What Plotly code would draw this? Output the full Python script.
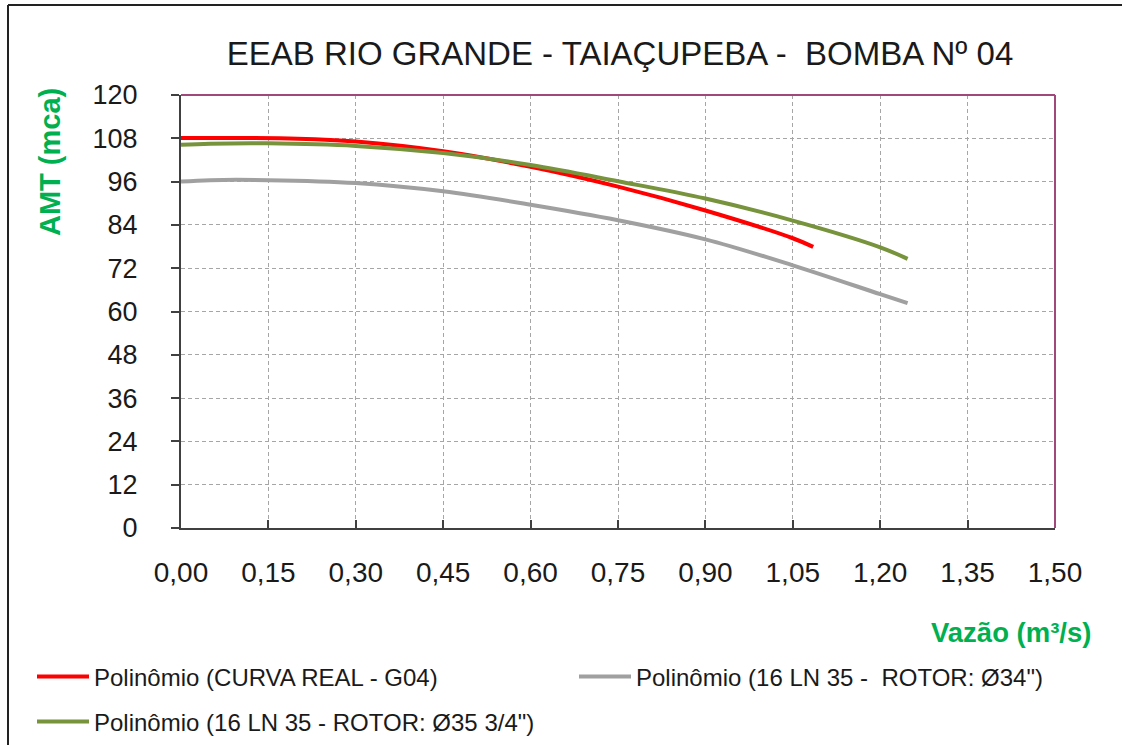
import plotly.graph_objects as go

# ---- data ----
vazao_real = [0.00, 0.10, 0.20, 0.30, 0.45, 0.60, 0.75, 0.90, 1.05, 1.085]
amt_real = [108.1, 108.1, 107.9, 107.1, 104.4, 100.1, 94.6, 88.0, 80.3, 77.9]

vazao_34 = [0.00, 0.05, 0.15, 0.30, 0.45, 0.60, 0.75, 0.90, 1.05, 1.20, 1.247]
amt_34 = [96.0, 96.4, 96.4, 95.6, 93.3, 89.6, 85.3, 80.0, 72.8, 64.8, 62.3]

vazao_35 = [0.00, 0.05, 0.15, 0.30, 0.45, 0.60, 0.75, 0.90, 1.05, 1.20, 1.247]
amt_35 = [106.2, 106.5, 106.6, 105.9, 103.9, 100.6, 96.1, 91.3, 85.2, 77.8, 74.6]

x_ticks = [0.00, 0.15, 0.30, 0.45, 0.60, 0.75, 0.90, 1.05, 1.20, 1.35, 1.50]
y_ticks = [0, 12, 24, 36, 48, 60, 72, 84, 96, 108, 120]

names = ["Polinômio (CURVA REAL - G04)",
         "Polinômio (16 LN 35 -  ROTOR: Ø34\")",
         "Polinômio (16 LN 35 - ROTOR: Ø35 3/4\")"]
title_text = "EEAB RIO GRANDE - TAIAÇUPEBA -  BOMBA Nº 04"
y_title = "AMT (mca)"
x_title = "Vazão (m³/s)"

FONT = "Liberation Sans, Arial, sans-serif"
GREEN_TXT = "#00b050"
PURPLE = "#a0487c"
TXT = "#1a1a1a"

fig = go.Figure()
fig.add_trace(go.Scatter(x=vazao_real, y=amt_real, mode="lines", name=names[0],
                         line=dict(color="#ff0000", width=4, shape="spline"),
                         legend="legend"))
fig.add_trace(go.Scatter(x=vazao_34, y=amt_34, mode="lines", name=names[1],
                         line=dict(color="#a0a0a0", width=4, shape="spline"),
                         legend="legend3"))
fig.add_trace(go.Scatter(x=vazao_35, y=amt_35, mode="lines", name=names[2],
                         line=dict(color="#77933c", width=4, shape="spline"),
                         legend="legend2"))

W, H = 1125, 745
L, R, T, B = 181, 1055, 95, 528
pw, ph = R - L, B - T

def px(xp):
    return (xp - L) / pw

def py(yp):
    return (B - yp) / ph

leg_common = dict(orientation="h", xanchor="left", yanchor="middle",
                  font=dict(size=24, family=FONT, color=TXT),
                  bgcolor="rgba(0,0,0,0)", itemwidth=52)

fig.update_layout(
    width=W, height=H,
    margin=dict(l=L, r=W - R, t=T, b=H - B, autoexpand=False),
    paper_bgcolor="white", plot_bgcolor="white",
    separators=",.",
    font=dict(family=FONT, color=TXT),
    title=dict(text=title_text, x=620 / W, xref="container", xanchor="center",
               y=1 - 53 / H, yref="container", yanchor="middle",
               font=dict(size=33, family=FONT, color=TXT)),
    xaxis=dict(range=[0, 1.5], tickvals=x_ticks, tickformat=".2f",
               showgrid=True, gridcolor="#a6a6a6", gridwidth=1, griddash="4px,3px",
               showline=True, linecolor="#404040", linewidth=2,
               ticks="inside", ticklen=8, tickwidth=2, tickcolor="#404040",
               ticklabelstandoff=18, tickfont=dict(size=28, family=FONT, color=TXT),
               zeroline=False, fixedrange=True),
    yaxis=dict(range=[0, 120], tickvals=y_ticks,
               showgrid=True, gridcolor="#a6a6a6", gridwidth=1, griddash="4px,3px",
               showline=True, linecolor="#404040", linewidth=2,
               ticks="outside", ticklen=8, tickwidth=2, tickcolor="#404040",
               ticklabelstandoff=28, tickfont=dict(size=27, family=FONT, color=TXT),
               zeroline=False),
    legend=dict(x=px(32), y=py(677), **leg_common),
    legend3=dict(x=px(574), y=py(677), **leg_common),
    legend2=dict(x=px(32), y=py(722), **leg_common),
    showlegend=True,
)

fig.add_annotation(text=x_title, xref="paper", yref="paper",
                   x=px(1093), y=py(632), xanchor="right", yanchor="middle",
                   showarrow=False,
                   font=dict(size=27.5, family=FONT, color=GREEN_TXT, weight="bold"))
fig.add_annotation(text=y_title, xref="paper", yref="paper", textangle=-90,
                   x=px(50), y=py(162), xanchor="center", yanchor="middle",
                   showarrow=False,
                   font=dict(size=29, family=FONT, color=GREEN_TXT, weight="bold"))

# top and right borders of plot area (purple)
fig.add_shape(type="line", xref="paper", yref="paper", x0=0, x1=1, y0=1, y1=1,
              line=dict(color=PURPLE, width=2))
fig.add_shape(type="line", xref="paper", yref="paper", x0=1, x1=1, y0=0, y1=1,
              line=dict(color=PURPLE, width=2))
# outer frame (left and top)
fig.add_shape(type="line", xref="paper", yref="paper", x0=px(8), x1=px(8), y0=py(5), y1=py(H + 5),
              line=dict(color="#222222", width=2))
fig.add_shape(type="line", xref="paper", yref="paper", x0=px(8), x1=px(1122), y0=py(5), y1=py(5),
              line=dict(color="#222222", width=2))

fig.write_html("out.html")
